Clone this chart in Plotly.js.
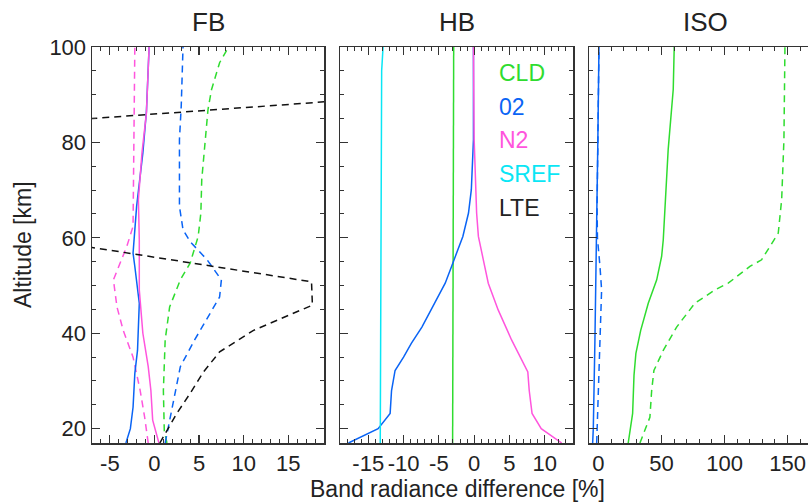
<!DOCTYPE html>
<html>
<head>
<meta charset="utf-8">
<script src="https://cdn.plot.ly/plotly-3.0.1.min.js"></script>
<style>
  html, body { margin: 0; padding: 0; overflow: hidden; background: #fff; }
  #chart { width: 822px; height: 502px; }
</style>
</head>
<body>
<div id="chart"></div>
<script>
// ---- FB panel: band radiance differences [%] vs altitude [km] ----
const fbAltCLD = [17, 19.6, 28, 38.6, 45.5, 51.2, 54.7, 60.3, 65.2, 72.2, 80.6, 86.9, 91.1, 96.7, 100];
const fbCLD    = [1.4, 1.1, 1.0, 1.2, 1.7, 2.9, 4.0, 4.9, 5.2, 5.3, 5.7, 6.0, 6.4, 7.3, 8.3];

const fbAltO2d = [17, 21.8, 27.4, 33, 38.6, 44.2, 47.6, 51.2, 55.4, 59.2, 61.7, 66.6, 80.6, 87.6, 100];
const fbO2d    = [1.2, 1.7, 2.3, 2.9, 4.5, 6.2, 7.3, 7.5, 5.9, 4.0, 3.2, 2.8, 2.8, 3.0, 3.2];

const fbAltO2  = [17, 20, 24.5, 31.6, 36.4, 46.3, 54, 56.8, 66.6, 77.8, 86.5, 100];
const fbO2     = [-3.2, -2.7, -2.4, -2.2, -1.9, -1.7, -2.2, -2.4, -2.0, -1.3, -0.9, -0.6];

const fbAltN2d = [17, 22.4, 28, 35, 40.6, 45.5, 51.2, 58.2, 62.4, 80.6, 100];
const fbN2d    = [-0.7, -1.1, -1.6, -2.4, -3.5, -4.2, -4.6, -3.1, -2.4, -2.3, -2.2];

const fbAltN2  = [17, 21.8, 28, 33, 40, 49.1, 59.6, 68, 77.8, 86.2, 100];
const fbN2     = [0.5, -0.2, -0.4, -0.7, -1.3, -1.7, -1.7, -1.8, -1.4, -0.9, -0.6];

const fbAltLTE = [17, 20, 23.2, 27.4, 31.9, 36.1, 40.6, 45.9, 50.8, 61, 70, 83, 91, 100];
const fbLTE    = [0.6, 1.5, 2.5, 4.0, 5.5, 7.3, 11.1, 17.7, 17.6, -17.3, -30, -21.9, 37.6, 45];

// ---- HB panel ----
const hbAltCLD  = [17, 100];
const hbCLD     = [-3.05, -2.9];

const hbAltO2   = [17, 20, 23.2, 28, 32.2, 35, 37.9, 41.3, 46.3, 50.5, 54, 60.3, 65.2, 70.1, 80.6, 100];
const hbO2      = [-17.8, -13.6, -11.9, -11.7, -11.2, -10.0, -8.9, -7.4, -5.6, -4.1, -3.2, -1.6, -0.8, -0.4, -0.1, -0.1];

const hbAltN2   = [17, 20, 23.2, 28, 31.9, 35, 38.6, 44.9, 50.5, 55.4, 60.3, 65.2, 80.6, 100];
const hbN2      = [12.4, 9.5, 8.2, 7.8, 7.6, 6.5, 5.3, 3.4, 2.0, 1.3, 0.6, 0.35, 0.0, -0.1];

const hbAltSREF = [17, 80, 95, 100];
const hbSREF    = [-13.3, -13.2, -13.1, -12.9];

// ---- ISO panel ----
const isoAltCLD  = [17, 23.2, 31.2, 35.8, 40.6, 46.3, 51.2, 56.1, 59.6, 70.1, 78.5, 91.1, 100];
const isoCLD     = [23.6, 27.1, 28.2, 29.7, 33.5, 39.5, 46.2, 50.1, 51.4, 53.5, 55.3, 59.3, 60.1];

const isoAltCLDd = [17, 22.4, 28, 32.2, 36.4, 41.3, 46.3, 49.1, 50.5, 54, 55.4, 58.9, 61, 68, 80.6, 100];
const isoCLDd    = [32.9, 40.8, 42.2, 44.0, 51.4, 62.0, 76.5, 92.4, 102.9, 120.1, 129.4, 137.3, 142.6, 145.3, 147.1, 147.9];

const isoAltO2   = [17, 20, 38.6, 59.6, 80, 100];
const isoO2      = [-4.6, -4.1, -2.8, -1.4, -0.5, 0.4];

const isoAltO2d  = [17, 28, 38.6, 49.1, 54, 60, 66, 80, 100];
const isoO2d     = [-1.4, -0.1, 1.7, 2.5, 1.2, -0.8, -1.1, -0.5, 0.4];

// ---- tick labels (plain hyphen for negatives) ----
const fbTicks  = [-5, 0, 5, 10, 15];
const fbLabels = ['-5', '0', '5', '10', '15'];
const hbTicks  = [-15, -10, -5, 0, 5, 10];
const hbLabels = ['-15', '-10', '-5', '0', '5', '10'];
const isoTicks  = [0, 50, 100, 150];
const isoLabels = ['0', '50', '100', '150'];
const altTicks  = [20, 40, 60, 80, 100];
const altLabels = ['20', '40', '60', '80', '100'];

// ---- labels ----
const panelTitles = ['FB', 'HB', 'ISO'];
const legendNames = ['CLD', '02', 'N2', 'SREF', 'LTE'];
const xTitle = 'Band radiance difference [%]';
const yTitle = 'Altitude [km]';

// ---- styling ----
const COL = { CLD: '#2fdc2f', O2: '#0a64f5', N2: '#ff55dd', SREF: '#0ae6f5', LTE: '#111111' };
const FONT = 'Liberation Sans, Arial, Helvetica, sans-serif';
const DASH = '7px,5px';
const LW = 1.5;

function line(x, y, color, dashed, xa, ya) {
  return {
    x: x, y: y, type: 'scatter', mode: 'lines',
    xaxis: xa, yaxis: ya, showlegend: false, hoverinfo: 'skip',
    line: { color: color, width: LW, dash: dashed ? DASH : 'solid' },
    cliponaxis: true
  };
}

const traces = [
  // FB
  line(fbCLD, fbAltCLD, COL.CLD, true, 'x', 'y'),
  line(fbO2d, fbAltO2d, COL.O2, true, 'x', 'y'),
  line(fbN2d, fbAltN2d, COL.N2, true, 'x', 'y'),
  line(fbO2, fbAltO2, COL.O2, false, 'x', 'y'),
  line(fbN2, fbAltN2, COL.N2, false, 'x', 'y'),
  line(fbLTE, fbAltLTE, COL.LTE, true, 'x', 'y'),
  // HB
  line(hbCLD, hbAltCLD, COL.CLD, false, 'x2', 'y2'),
  line(hbO2, hbAltO2, COL.O2, false, 'x2', 'y2'),
  line(hbN2, hbAltN2, COL.N2, false, 'x2', 'y2'),
  line(hbSREF, hbAltSREF, COL.SREF, false, 'x2', 'y2'),
  // ISO
  line(isoCLDd, isoAltCLDd, COL.CLD, true, 'x3', 'y3'),
  line(isoCLD, isoAltCLD, COL.CLD, false, 'x3', 'y3'),
  line(isoO2d, isoAltO2d, COL.O2, true, 'x3', 'y3'),
  line(isoO2, isoAltO2, COL.O2, false, 'x3', 'y3')
];

// plot area spans 92..821 px horizontally (729 px)
const W = 729;
const dom1 = [0, 232 / W];
const dom2 = [248 / W, 481 / W];
const dom3 = [497 / W, 1];

function xAxis(domain, range, vals, text, minorDtick, anchor) {
  return {
    domain: domain, range: range, anchor: anchor,
    tickmode: 'array', tickvals: vals, ticktext: text, tickangle: 0,
    ticks: 'inside', ticklen: 8, tickwidth: 1.2, tickcolor: '#333',
    minor: { ticks: 'inside', tickmode: 'linear', dtick: minorDtick, tick0: 0, ticklen: 4, tickwidth: 1, tickcolor: '#333', showgrid: false },
    showline: true, linecolor: '#333', linewidth: 1.5, mirror: 'ticks',
    showgrid: false, zeroline: false,
    tickfont: { family: FONT, size: 22, color: '#222' }
  };
}
function yAxis(anchor, labels) {
  return {
    domain: [0, 1], range: [17, 100], anchor: anchor,
    tickmode: 'array', tickvals: altTicks, ticktext: altLabels,
    ticks: 'inside', ticklen: 8, tickwidth: 1.2, tickcolor: '#333',
    minor: { ticks: 'inside', tickmode: 'linear', dtick: 5, tick0: 0, ticklen: 4, tickwidth: 1, tickcolor: '#333', showgrid: false },
    showline: true, linecolor: '#333', linewidth: 1.5, mirror: 'ticks',
    showgrid: false, zeroline: false, showticklabels: labels,
    tickfont: { family: FONT, size: 22, color: '#222' }
  };
}

const annotations = [];
[dom1, dom2, dom3].forEach((d, i) => {
  annotations.push({
    text: panelTitles[i], xref: 'paper', yref: 'paper',
    x: (d[0] + d[1]) / 2, y: 1.064, xanchor: 'center', yanchor: 'middle',
    showarrow: false, font: { family: FONT, size: 26, color: '#222' }
  });
});

// legend text placed inside the HB panel
const legendColors = [COL.CLD, COL.O2, COL.N2, COL.SREF, '#222'];
const legendAlts = [94.6, 87.5, 80.6, 73.3, 66.3];
legendNames.forEach((t, i) => {
  annotations.push({
    text: t, xref: 'x2', yref: 'y2', x: 3.2, y: legendAlts[i],
    xanchor: 'left', yanchor: 'middle', showarrow: false,
    font: { family: FONT, size: 23, color: legendColors[i] }
  });
});

annotations.push({
  text: xTitle, xref: 'paper', yref: 'paper', x: (457 - 92) / W, y: -0.117,
  xanchor: 'center', yanchor: 'middle', showarrow: false,
  font: { family: FONT, size: 23, color: '#222' }
});
annotations.push({
  text: yTitle, xref: 'paper', yref: 'paper', x: (23 - 92) / W, y: 0.5,
  xanchor: 'center', yanchor: 'middle', textangle: -90, showarrow: false,
  font: { family: FONT, size: 23, color: '#222' }
});

const layout = {
  width: 822, height: 502,
  margin: { l: 92, r: 1, t: 47, b: 59 },
  paper_bgcolor: '#fff', plot_bgcolor: '#fff',
  showlegend: false,
  xaxis: xAxis(dom1, [-7, 19], fbTicks, fbLabels, 1, 'y'),
  xaxis2: xAxis(dom2, [-19, 14], hbTicks, hbLabels, 1, 'y2'),
  xaxis3: xAxis(dom3, [-7.5, 176.5], isoTicks, isoLabels, 10, 'y3'),
  yaxis: yAxis('x', true),
  yaxis2: yAxis('x2', false),
  yaxis3: yAxis('x3', false),
  annotations: annotations
};

Plotly.newPlot('chart', traces, layout, { displayModeBar: false, staticPlot: true });
</script>
</body>
</html>
